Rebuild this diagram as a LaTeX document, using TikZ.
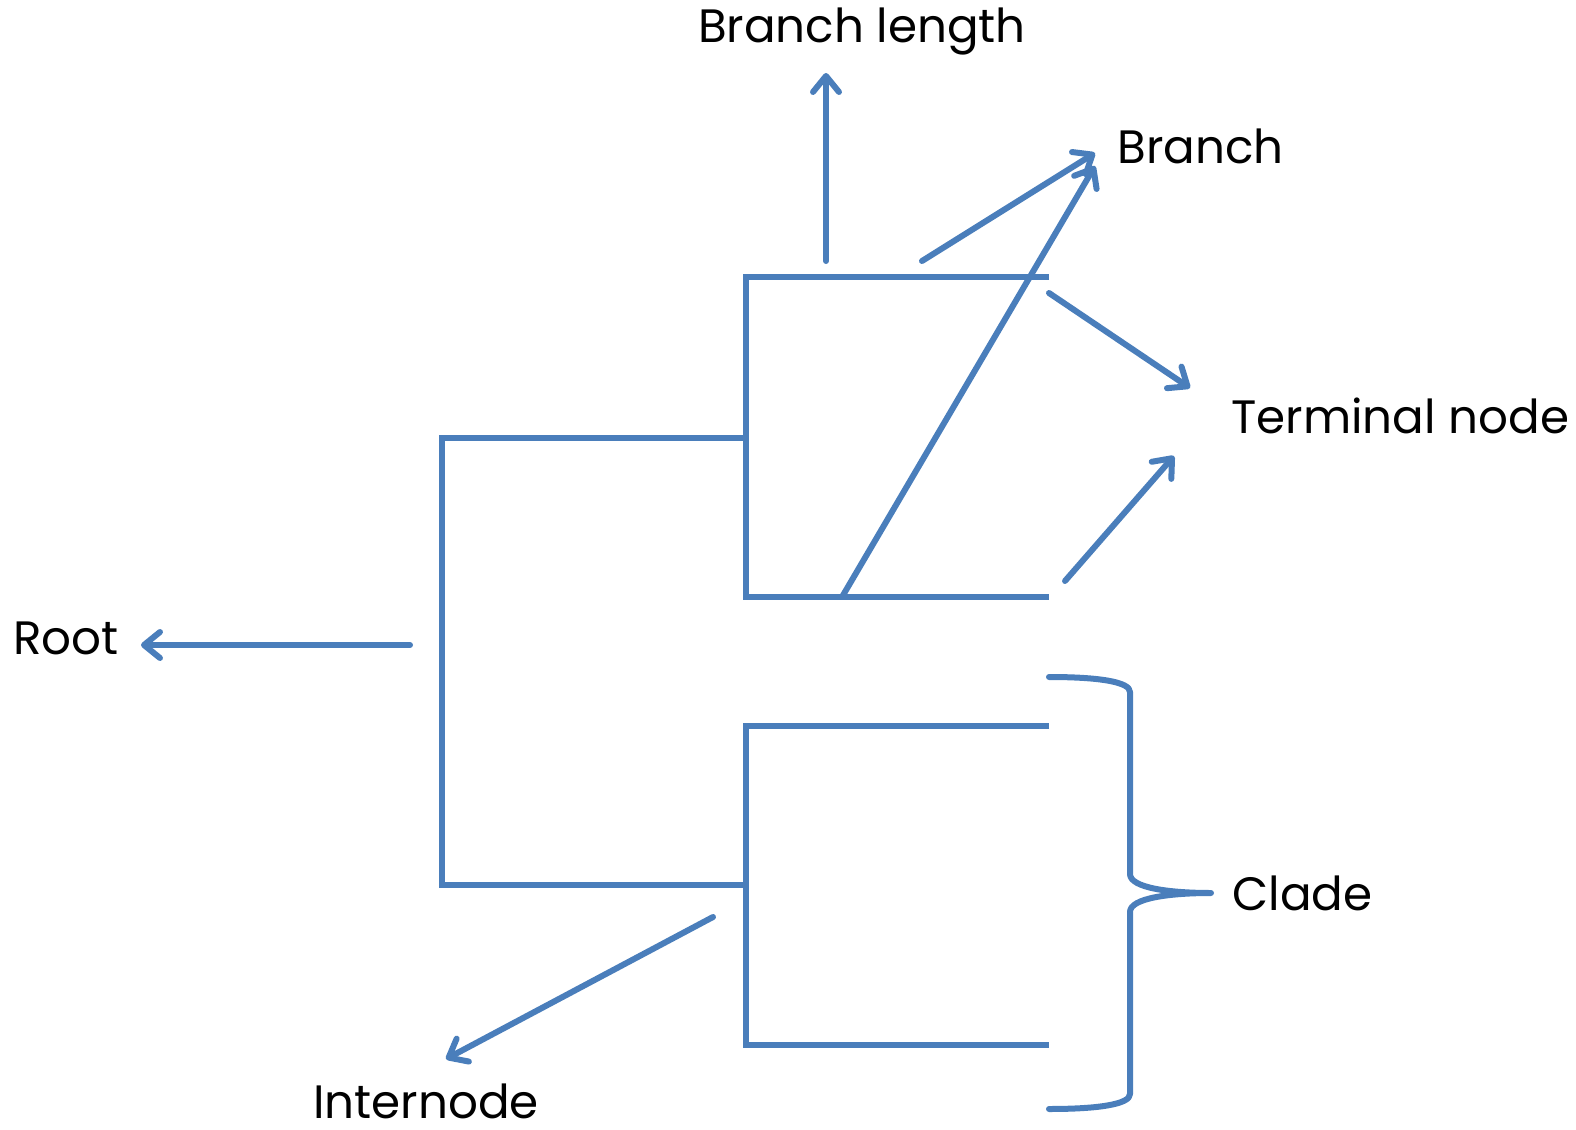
\documentclass[tikz,border=0pt]{standalone}
\usepackage{fontspec}
\setmainfont{Poppins}
\usetikzlibrary{arrows.meta}
\definecolor{lineblue}{HTML}{4A7EBB}
\tikzset{
  tree/.style={draw=lineblue, line width=3pt},
  pointer/.style={draw=lineblue, line width=3pt, line cap=round,
    -{Straight Barb[length=8pt,width=13pt,line cap=round,round]}},
  label/.style={font=\fontsize{23.4}{28}\selectfont, inner sep=0pt, text=black},
}
\begin{document}
\begin{tikzpicture}[x=0.5pt,y=-0.5pt]
\useasboundingbox (0,0) rectangle (1576,1130);
% tree coordinates
\coordinate (r1) at (442,438);
\coordinate (r2) at (442,885);
\coordinate (u1) at (746,438);
\coordinate (l1) at (746,885);
\coordinate (ut) at (746,277);
\coordinate (ub) at (746,597);
\coordinate (lt) at (746,726);
\coordinate (lb) at (746,1045);
\coordinate (a1) at (1049,277);
\coordinate (a2) at (1049,597);
\coordinate (a3) at (1049,726);
\coordinate (a4) at (1049,1045);
\draw[tree] (u1) -- (r1) -- (r2) -- (l1);
\draw[tree] (a1) -- (ut) -- (ub) -- (a2);
\draw[tree] (a3) -- (lt) -- (lb) -- (a4);
% labels
\node[label] (bl) at (862,31) {Branch length};
\node[label, anchor=west] (br) at (1117,146) {Branch};
\node[label, anchor=west] (tn) at (1231,416) {Terminal node};
\node[label, anchor=west] (ro) at (13,638) {Root};
\node[label, anchor=west] (cl) at (1232,893) {Clade};
\node[label] (in) at (426,1101) {Internode};
% pointer coordinates
\coordinate (p1s) at (826,261);  \coordinate (p1e) at (826,73);
\coordinate (p2s) at (922,261);  \coordinate (p2e) at (1095,153);
\coordinate (p3s) at (842,597);  \coordinate (p3e) at (1095,166);
\coordinate (p4s) at (1049,293); \coordinate (p4e) at (1190,388);
\coordinate (p5s) at (1065,581); \coordinate (p5e) at (1174,456);
\coordinate (p6s) at (410,645);  \coordinate (p6e) at (141,645);
\coordinate (p7s) at (713,917);  \coordinate (p7e) at (446,1059);
\draw[pointer] (p1s) -- (p1e);
\draw[pointer] (p2s) -- (p2e);
\draw[pointer] (p3s) -- (p3e);
\draw[pointer] (p4s) -- (p4e);
\draw[pointer] (p5s) -- (p5e);
\draw[pointer] (p6s) -- (p6e);
\draw[pointer] (p7s) -- (p7e);
% brace
\coordinate (bt) at (1049,677);
\coordinate (bb) at (1049,1109);
\coordinate (tip) at (1211,893);
\draw[tree, line cap=round, line join=round]
  (bt) .. controls (1100,677) and (1130,682) .. (1130,692) -- (1130,874)
  .. controls (1130,888) and (1170,893) .. (tip)
  .. controls (1170,893) and (1130,898) .. (1130,912) -- (1130,1094)
  .. controls (1130,1104) and (1100,1109) .. (bb);
\end{tikzpicture}
\end{document}
